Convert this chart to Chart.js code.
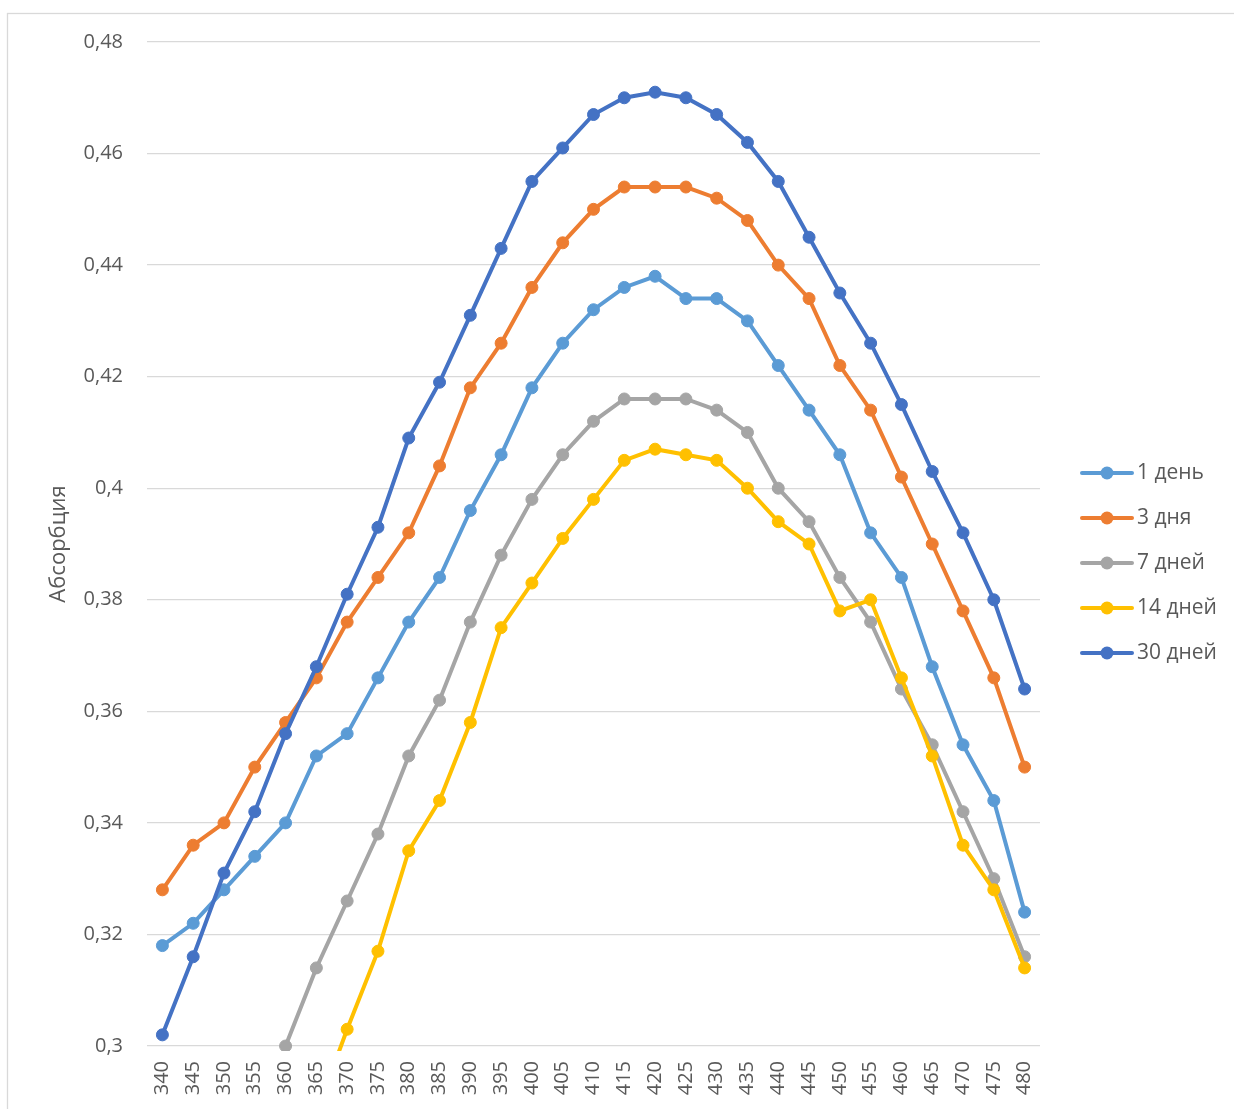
<!DOCTYPE html>
<html lang="ru">
<head>
<meta charset="utf-8">
<title>Абсорбция</title>
<script src="https://cdn.jsdelivr.net/npm/chart.js@4.4.1/dist/chart.umd.min.js"></script>
<style>
    html, body { margin: 0; padding: 0; background: #fff; }
    #box { width: 1234px; height: 1109px; position: relative; }
</style>
</head>
<body>
<div id="box"><canvas id="grafico"></canvas></div>
<script>
// Длины волн (нм)
const comprimentos = [340, 345, 350, 355, 360, 365, 370, 375, 380, 385, 390, 395, 400, 405, 410,
    415, 420, 425, 430, 435, 440, 445, 450, 455, 460, 465, 470, 475, 480];

// Абсорбция по дням
const dia1 = [0.318, 0.322, 0.328, 0.334, 0.340, 0.352, 0.356, 0.366, 0.376, 0.384, 0.396, 0.406, 0.418, 0.426, 0.432,
    0.436, 0.438, 0.434, 0.434, 0.430, 0.422, 0.414, 0.406, 0.392, 0.384, 0.368, 0.354, 0.344, 0.324];
const dias3 = [0.328, 0.336, 0.340, 0.350, 0.358, 0.366, 0.376, 0.384, 0.392, 0.404, 0.418, 0.426, 0.436, 0.444, 0.450,
    0.454, 0.454, 0.454, 0.452, 0.448, 0.440, 0.434, 0.422, 0.414, 0.402, 0.390, 0.378, 0.366, 0.350];
const dias7 = [null, null, null, null, 0.300, 0.314, 0.326, 0.338, 0.352, 0.362, 0.376, 0.388, 0.398, 0.406, 0.412,
    0.416, 0.416, 0.416, 0.414, 0.410, 0.400, 0.394, 0.384, 0.376, 0.364, 0.354, 0.342, 0.330, 0.316];
const dias14 = [null, null, null, null, null, 0.288, 0.303, 0.317, 0.335, 0.344, 0.358, 0.375, 0.383, 0.391, 0.398,
    0.405, 0.407, 0.406, 0.405, 0.400, 0.394, 0.390, 0.378, 0.380, 0.366, 0.352, 0.336, 0.328, 0.314];
const dias30 = [0.302, 0.316, 0.331, 0.342, 0.356, 0.368, 0.381, 0.393, 0.409, 0.419, 0.431, 0.443, 0.455, 0.461, 0.467,
    0.470, 0.471, 0.470, 0.467, 0.462, 0.455, 0.445, 0.435, 0.426, 0.415, 0.403, 0.392, 0.380, 0.364];

const series = [
    { label: '1 день', data: dia1, cor: '#5B9BD5' },
    { label: '3 дня', data: dias3, cor: '#ED7D31' },
    { label: '7 дней', data: dias7, cor: '#A5A5A5' },
    { label: '14 дней', data: dias14, cor: '#FFC000' },
    { label: '30 дней', data: dias30, cor: '#4472C4' }
];

const fonte = '"Open Sans", "Noto Sans", sans-serif';
const corTexto = '#595959';
const corGrade = '#d9d9d9';

// Moldura do gráfico (só as bordas superior e esquerda aparecem)
const moldura = {
    id: 'moldura',
    beforeDraw(chart) {
        const ctx = chart.ctx;
        ctx.save();
        ctx.strokeStyle = corGrade;
        ctx.lineWidth = 1.3;
        ctx.strokeRect(7.5, 13.5, 1400, 1300);
        ctx.restore();
    }
};

// Legenda à direita: linha com marcador no meio
const legenda = {
    id: 'legenda',
    afterDraw(chart) {
        const ctx = chart.ctx;
        ctx.save();
        ctx.font = '21px ' + fonte;
        ctx.textBaseline = 'middle';
        chart.data.datasets.forEach(function(ds, i) {
            const y = 473 + i * 45;
            ctx.strokeStyle = ds.borderColor;
            ctx.lineWidth = 4;
            ctx.lineCap = 'round';
            ctx.beginPath();
            ctx.moveTo(1082, y);
            ctx.lineTo(1132, y);
            ctx.stroke();
            ctx.fillStyle = ds.borderColor;
            ctx.beginPath();
            ctx.arc(1107, y, 6.5, 0, Math.PI * 2);
            ctx.fill();
            ctx.fillStyle = corTexto;
            ctx.fillText(ds.label, 1137, y);
        });
        ctx.restore();
    }
};

const ctx = document.getElementById('grafico').getContext('2d');

const meuGrafico = new Chart(ctx, {
    type: 'line',
    data: {
        labels: comprimentos,
        datasets: series.map(function(s, i) {
            return {
                label: s.label,
                data: s.data,
                borderColor: s.cor,
                backgroundColor: s.cor,
                pointBackgroundColor: s.cor,
                pointBorderColor: s.cor,
                borderWidth: 4,
                pointRadius: 6,
                pointBorderWidth: 1,
                pointHoverRadius: 6,
                tension: 0,
                spanGaps: false,
                order: series.length - i,   // 30 дней por cima
                clip: { left: false, top: false, right: false, bottom: 5 }
            };
        })
    },
    options: {
        responsive: true,
        maintainAspectRatio: false,
        animation: false,
        layout: {
            padding: { left: 30, top: 42, right: 194, bottom: 0 }
        },
        plugins: {
            legend: { display: false },
            tooltip: { enabled: false }
        },
        scales: {
            x: {
                type: 'category',
                offset: true,
                grid: { display: false, drawTicks: false },
                border: { display: false },
                ticks: {
                    color: corTexto,
                    font: { family: fonte, size: 20 },
                    minRotation: 90,
                    maxRotation: 90,
                    padding: 15,
                    autoSkip: false
                },
                afterFit: function(scale) { scale.height = 1109 - 1046; }
            },
            y: {
                min: 0.3,
                max: 0.48,
                grid: { color: corGrade, lineWidth: 1.3, drawTicks: false },
                border: { display: false },
                ticks: {
                    stepSize: 0.02,
                    color: corTexto,
                    font: { family: fonte, size: 20 },
                    padding: 24,
                    callback: function(value) {
                        // formato geral: sem zeros à direita, vírgula decimal
                        return String(Math.round(value * 100) / 100).replace('.', ',');
                    }
                },
                title: {
                    display: true,
                    text: 'Абсорбция',
                    color: corTexto,
                    font: { family: fonte, size: 22 },
                    padding: { top: 16, bottom: 0 }
                },
                afterFit: function(scale) { scale.width = 147 - 30; }
            }
        }
    },
    plugins: [moldura, legenda]
});
</script>
</body>
</html>
